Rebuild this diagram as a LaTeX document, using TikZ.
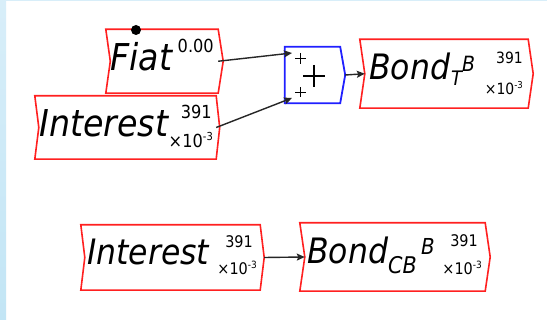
\documentclass[tikz,border=0pt]{standalone}
\usepackage{fontspec}
\setmainfont{DejaVu Sans}[FakeStretch=0.9]
\usetikzlibrary{arrows.meta}

\definecolor{tagred}{RGB}{255,32,32}
\definecolor{sumblue}{RGB}{32,32,255}
\definecolor{stripA}{RGB}{216,238,249}
\definecolor{stripB}{RGB}{194,229,245}

\newcommand\fs[1]{\fontsize{#1}{#1}\selectfont}
% "x10^-3" scale marker: size of x10, size of exponent, raise of exponent
\newcommand\scalemark[3]{{\fs{#1}×10\raisebox{#3}{\fs{#2}-3}}}
% tag outline: concave notch on the left, pointed tip on the right
\newcommand\tagoutline[4]{%
  \draw[#4] (#1.north west) -- (#1.north east) -- ([xshift=#3]#1.east)
    -- (#1.south east) -- (#1.south west) -- ([xshift=#2]#1.west) -- cycle;}

\begin{document}
\begin{tikzpicture}[x=1pt,y=-1pt,
  box/.style={rectangle,inner sep=0pt},
  lbl/.style={inner sep=0pt,anchor=base west,font=\itshape},
  num/.style={inner sep=0pt,anchor=base east},
  redtag/.style={draw=tagred,line width=1.6pt,line join=miter},
  bluetag/.style={draw=sumblue,line width=1.8pt,line join=miter},
  link/.style={draw=black!85,line width=1.4pt,-{Stealth[length=8pt,width=7pt,inset=1.5pt]}}]

% page and left strip
\fill[white] (0,0) rectangle (547,320);
\shade[top color=stripA,bottom color=stripB] (0,0) rectangle (6,320);
\fill[stripA] (6,0) rectangle (547,1);
\useasboundingbox (0,0) rectangle (547,320);

% tag boxes
\node[box,minimum width=112pt,minimum height=63.5pt] (fiat)   at (162,61.25) {};
\node[box,minimum width=181pt,minimum height=63pt]   (intA)   at (125.5,127.5) {};
\node[box,minimum width=55pt,minimum height=56pt]    (sum)    at (312.5,75) {};
\node[box,minimum width=168pt,minimum height=68.5pt] (bondT)  at (444,73.75) {};
\node[box,minimum width=179pt,minimum height=65pt]   (intB)   at (170.5,257.5) {};
\node[box,minimum width=185pt,minimum height=68pt]   (bondCB) at (392.5,257) {};

\tagoutline{fiat}{4.5}{5}{redtag}
\tagoutline{intA}{4}{3.5}{redtag}
\tagoutline{sum}{0}{5}{bluetag}
\tagoutline{bondT}{5}{5}{redtag}
\tagoutline{intB}{4}{4}{redtag}
\tagoutline{bondCB}{5}{5}{redtag}

% handle on Fiat
\node[circle,fill=black,inner sep=0pt,minimum size=10pt] (knob) at (136,30) {};

% labels: Fiat
\node[lbl,font=\itshape\fs{37}] (fiatname) at (110,71) {Fiat};
\node[num,font=\fs{18}] (fiatval) at (214,53) {0.00};

% labels: Interest (top)
\node[lbl,font=\itshape\fs{37}] (intAname) at (39,137) {Interest};
\node[num,font=\fs{18}] (intAval) at (212,119) {391};
\node[num] (intAscale) at (213,148) {\scalemark{18}{11}{7pt}};

% summation block
\draw[line width=1.8pt] (303,76) -- (325,76) (314,65) -- (314,87);
\draw[line width=1.1pt] (295,58.5) -- (306,58.5) (300.5,53) -- (300.5,64);
\draw[line width=1.1pt] (295,92.5) -- (306,92.5) (300.5,87.5) -- (300.5,97.5);
\coordinate (sumin1) at (292,53);
\coordinate (sumin2) at (292,98);

% labels: Bond_T^B
\node[lbl,font=\itshape\fs{35}] (bondTname) at (369,80) {Bond};
\node[lbl,font=\itshape\fs{20}] (bondTsub) at (451,86) {T};
\node[lbl,font=\itshape\fs{21}] (bondTsup) at (462,72) {B};
\node[num,font=\fs{15.5}] (bondTval) at (523,64) {391};
\node[num] (bondTscale) at (523,95) {\scalemark{15.5}{9.5}{6pt}};

% labels: Interest (bottom)
\node[lbl,font=\itshape\fs{35}] (intBname) at (87,265) {Interest};
\node[num,font=\fs{16}] (intBval) at (253,248) {391};
\node[num] (intBscale) at (257,275) {\scalemark{16}{10}{6pt}};

% labels: Bond_CB^B
\node[lbl,font=\itshape\fs{35}] (bondCBname) at (307,264) {Bond};
\node[lbl,font=\itshape\fs{23}] (bondCBsub) at (388,274) {CB};
\node[lbl,font=\itshape\fs{22}] (bondCBsup) at (421,255) {B};
\node[num,font=\fs{16}] (bondCBval) at (478,247) {391};
\node[num] (bondCBscale) at (482,275) {\scalemark{16}{10}{6pt}};

% connectors
\draw[link] (fiat.east) -- (sumin1);
\draw[link] (intA.east) -- (sumin2);
\draw[link] ([xshift=5pt]sum.east) -- ([xshift=5pt]bondT.west);
\draw[link] ([xshift=4pt]intB.east) -- ([xshift=5pt]bondCB.west);
\end{tikzpicture}
\end{document}
